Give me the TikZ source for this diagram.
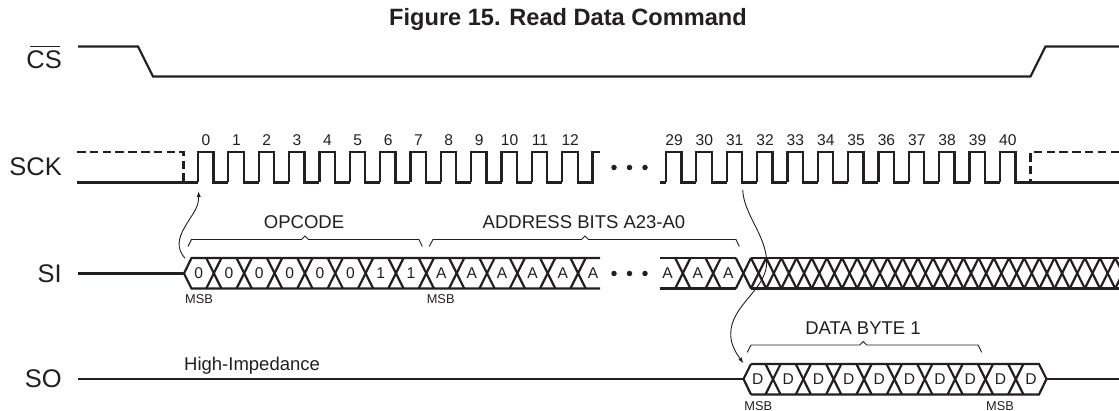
\documentclass[tikz,border=0pt]{standalone}
\usepackage{fontspec}
\setmainfont{Liberation Sans}
\definecolor{ink}{HTML}{231F20}

\tikzset{
    wave/.style={line width=2.2pt, ink, line join=miter},
    hidden/.style={wave, dash pattern=on 8.5pt off 4.3pt},
    brace/.style={line width=0.9pt, ink},
    link/.style={line width=0.9pt, ink, -latex},
    title/.style={font=\fontsize{23.6}{25}\selectfont\bfseries, text=ink, inner sep=0},
    signal/.style={font=\fontsize{25.5}{26}\selectfont, text=ink, anchor=east, inner sep=0},
    note/.style={font=\fontsize{18.5}{20}\selectfont, text=ink, inner sep=0},
    tick/.style={font=\fontsize{15.6}{16}\selectfont, text=ink, inner sep=0},
    bit/.style={font=\fontsize{15.6}{16}\selectfont, text=ink, inner sep=0},
    msb/.style={font=\fontsize{12.8}{13}\selectfont, text=ink, inner sep=0},
    dot/.style={circle, fill=ink, minimum size=5.5pt, inner sep=0}
}

\begin{document}
\begin{tikzpicture}[x=1pt, y=-1pt]
    \useasboundingbox (0, 0) rectangle (1119, 411);

    \node[title, anchor=base west] (head) at (389, 26) {Figure 15. Read Data Command};

    \node[signal] (cs) at (62, 60) {CS};
    \node[signal] (sck) at (62, 167) {SCK};
    \node[signal] (si) at (62, 273.5) {SI};
    \node[signal] (so) at (62, 379) {SO};
    \draw[line width=1.3pt, ink] ([xshift=4pt, yshift=4.5pt]cs.north west) -- ([xshift=-2pt, yshift=4.5pt]cs.north east);

    % chip select
    \draw[wave] (78, 46.5) -- (138, 46.5) -- (153, 76.5) -- (1030.5, 76.5) -- (1045.5, 46.5) -- (1119, 46.5);

    % clock
    \draw[hidden] (77, 152) -- (183.5, 152) -- (183.5, 182.5);
    \draw[hidden] (1119, 152) -- (1030.5, 152) -- (1030.5, 182.5);
    \draw[wave] (77, 182.5) -- (198, 182.5);
    \foreach \k in {0,...,11} {
        \pgfmathsetmacro{\r}{198 + 30.35*\k}
        \draw[wave] (\r, 182.5) -- (\r, 152) -- (\r+15.4, 152) -- (\r+15.4, 182.5) -- (\r+30.35, 182.5);
    }
    \draw[wave] (562.2, 182.5) -- (562.2, 152) -- (577.6, 152) -- (577.6, 182.5) -- (592.5, 182.5) -- (592.5, 152) -- (600, 152);
    \draw[wave] (659.5, 182.5) -- (666, 182.5);
    \foreach \k in {0,...,10} {
        \pgfmathsetmacro{\r}{666 + 30.35*\k}
        \draw[wave] (\r, 182.5) -- (\r, 152) -- (\r+15.4, 152) -- (\r+15.4, 182.5) -- (\r+30.35, 182.5);
    }
    \draw[wave] (999.8, 182.5) -- (999.8, 152) -- (1015.5, 152) -- (1015.5, 182.5) -- (1119, 182.5);

    \foreach \k in {0,...,12} {
        \pgfmathsetmacro{\r}{206 + 30.35*\k}
        \node[tick] (n\k) at (\r, 140) {\k};
    }
    \foreach \k in {29,...,40} {
        \pgfmathsetmacro{\r}{674 + 30.35*(\k-29)}
        \node[tick] (n\k) at (\r, 140) {\k};
    }
    \node[dot] (ckdot1) at (614, 167.5) {};
    \node[dot] (ckdot2) at (629.5, 167.5) {};
    \node[dot] (ckdot3) at (645, 167.5) {};

    % serial input
    \draw[wave] (78, 273.5) -- (184, 273.5);
    \draw[wave] (600, 258) -- (191.5, 258) -- (184, 273.5) -- (191.5, 288.5) -- (600, 288.5);
    \foreach \k in {0,...,12} {
        \pgfmathsetmacro{\c}{213.85 + 30.35*\k}
        \draw[wave] (\c-7.6, 258) -- (\c+7.6, 288.5);
        \draw[wave] (\c-7.6, 288.5) -- (\c+7.6, 258);
    }
    \foreach \k/\v in {0/0,1/0,2/0,3/0,4/0,5/0,6/1,7/1,8/A,9/A,10/A,11/A,12/A,13/A} {
        \pgfmathsetmacro{\c}{198.6 + 30.35*\k}
        \node[bit] (si\k) at (\c, 273.5) {\v};
    }
    \draw[wave] (659.5, 258) -- (735.8, 258);
    \draw[wave] (659.5, 288.5) -- (735.8, 288.5);
    \foreach \k in {0,1} {
        \pgfmathsetmacro{\c}{682.8 + 30.35*\k}
        \draw[wave] (\c-7.6, 258) -- (\c+7.6, 288.5);
        \draw[wave] (\c-7.6, 288.5) -- (\c+7.6, 258);
    }
    \foreach \k in {29,30,31} {
        \pgfmathsetmacro{\c}{667.5 + 30.35*(\k-29)}
        \node[bit] (si\k) at (\c, 273.5) {A};
    }
    \node[dot] (sidot1) at (614, 273.5) {};
    \node[dot] (sidot2) at (629.5, 273.5) {};
    \node[dot] (sidot3) at (645, 273.5) {};

    % don't care
    \draw[wave] (751, 258) -- (1119, 258);
    \draw[wave] (751, 288.5) -- (1119, 288.5);
    \foreach \k in {0,...,25} {
        \pgfmathsetmacro{\c}{743.4 + 15.175*\k}
        \draw[wave] (\c-7.6, 258) -- (\c+7.6, 288.5);
        \draw[wave] (\c-7.6, 288.5) -- (\c+7.6, 258);
    }

    % serial output
    \draw[wave] (78, 379) -- (743.5, 379);
    \draw[wave] (751, 364) -- (743.5, 379) -- (751, 394.5);
    \draw[wave] (751, 364) -- (1039, 364) -- (1046.5, 379) -- (1039, 394.5) -- (751, 394.5);
    \draw[wave] (1046.5, 379) -- (1119, 379);
    \foreach \k in {0,...,8} {
        \pgfmathsetmacro{\c}{773 + 30.35*\k}
        \draw[wave] (\c-7.6, 364) -- (\c+7.6, 394.5);
        \draw[wave] (\c-7.6, 394.5) -- (\c+7.6, 364);
    }
    \foreach \k in {0,...,9} {
        \pgfmathsetmacro{\c}{757.8 + 30.35*\k}
        \node[bit] (so\k) at (\c, 379) {D};
    }

    \node[msb] (msba) at (199, 299.5) {MSB};
    \node[msb] (msbb) at (440.7, 299.5) {MSB};
    \node[msb] (msbc) at (758.3, 405.7) {MSB};
    \node[msb] (msbd) at (1000, 405.7) {MSB};

    % braces
    \draw[brace] (188, 246.5) -- (191.5, 239.5) -- (301.5, 239.5) -- (305, 236) -- (308.5, 239.5) -- (419, 239.5) -- (422.3, 246.5);
    \draw[brace] (429.3, 246.5) -- (433, 239.5) -- (581.5, 239.5) -- (585, 236) -- (588.5, 239.5) -- (736, 239.5) -- (739.3, 246.5);
    \draw[brace] (747.3, 352.3) -- (751, 345) -- (859.8, 345) -- (863.3, 341.5) -- (866.8, 345) -- (978, 345) -- (981.7, 352.3);
    \node[note] (opcode) at (304, 221.7) {OPCODE};
    \node[note] (address) at (584, 221.7) {ADDRESS BITS A23-A0};
    \node[note] (databyte) at (863, 327.7) {DATA BYTE 1};
    \node[note, anchor=west] (hiz) at (184, 366) {High-Impedance};

    % edge links
    \coordinate (sistart) at (185, 258.3);
    \coordinate (ckrise) at (198.7, 191.5);
    \coordinate (ckfall) at (742.7, 190);
    \coordinate (sostart) at (743.3, 363);
    \draw[link] (sistart) .. controls (176, 248) and (178, 238) .. (186, 225) .. controls (193, 213) and (198.7, 208) .. (ckrise);
    \draw[link] (ckfall) .. controls (744, 215) and (766, 235) .. (766.7, 262) .. controls (767, 290) and (730, 305) .. (730.7, 335) .. controls (731, 345) and (736, 353) .. (sostart);
\end{tikzpicture}
\end{document}
